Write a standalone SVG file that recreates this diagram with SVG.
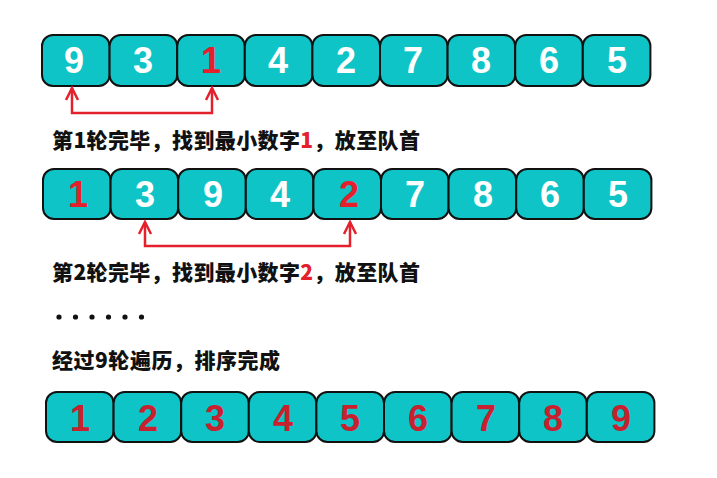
<svg xmlns="http://www.w3.org/2000/svg" width="717" height="478" viewBox="0 0 717 478">
<defs>
<style>
.box{fill:#0fc4c6;stroke:#111;stroke-width:2}
.d{font-family:"Liberation Sans",Arial,sans-serif;font-weight:bold;font-size:36px;text-anchor:middle}
.w{fill:#fff}
.r{fill:#e3202c}
.r3{fill:#c8202e}
.t{font-family:"Noto Sans CJK SC",sans-serif;font-weight:900;font-size:21px;fill:#111}
.ar{fill:none;stroke:#e3202c;stroke-width:2.5}
</style>
</defs>
<rect width="717" height="478" fill="#fff"/>
<g id="row1">
<g id="r1n1"><rect class="box" x="42" y="35" width="67.6" height="51" rx="11"/><text class="d w" x="74" y="73">9</text></g>
<g id="r1n2"><rect class="box" x="109.6" y="35" width="67.6" height="51" rx="11"/><text class="d w" x="143" y="73">3</text></g>
<g id="r1n3"><rect class="box" x="177.2" y="35" width="67.6" height="51" rx="11"/><text class="d r" x="211" y="73">1</text></g>
<g id="r1n4"><rect class="box" x="244.8" y="35" width="67.6" height="51" rx="11"/><text class="d w" x="278" y="73">4</text></g>
<g id="r1n5"><rect class="box" x="312.4" y="35" width="67.6" height="51" rx="11"/><text class="d w" x="346" y="73">2</text></g>
<g id="r1n6"><rect class="box" x="380" y="35" width="67.6" height="51" rx="11"/><text class="d w" x="413" y="73">7</text></g>
<g id="r1n7"><rect class="box" x="447.6" y="35" width="67.6" height="51" rx="11"/><text class="d w" x="481" y="73">8</text></g>
<g id="r1n8"><rect class="box" x="515.2" y="35" width="67.6" height="51" rx="11"/><text class="d w" x="549" y="73">6</text></g>
<g id="r1n9"><rect class="box" x="582.8" y="35" width="67.6" height="51" rx="11"/><text class="d w" x="617" y="73">5</text></g>
</g>
<g id="row2">
<g id="r2n1"><rect class="box" x="43" y="169" width="67.6" height="50" rx="11"/><text class="d r" x="78" y="207">1</text></g>
<g id="r2n2"><rect class="box" x="110.6" y="169" width="67.6" height="50" rx="11"/><text class="d w" x="145" y="207">3</text></g>
<g id="r2n3"><rect class="box" x="178.2" y="169" width="67.6" height="50" rx="11"/><text class="d w" x="213" y="207">9</text></g>
<g id="r2n4"><rect class="box" x="245.8" y="169" width="67.6" height="50" rx="11"/><text class="d w" x="280" y="207">4</text></g>
<g id="r2n5"><rect class="box" x="313.4" y="169" width="67.6" height="50" rx="11"/><text class="d r" x="349" y="207">2</text></g>
<g id="r2n6"><rect class="box" x="381" y="169" width="67.6" height="50" rx="11"/><text class="d w" x="415" y="207">7</text></g>
<g id="r2n7"><rect class="box" x="448.6" y="169" width="67.6" height="50" rx="11"/><text class="d w" x="483" y="207">8</text></g>
<g id="r2n8"><rect class="box" x="516.2" y="169" width="67.6" height="50" rx="11"/><text class="d w" x="550" y="207">6</text></g>
<g id="r2n9"><rect class="box" x="583.8" y="169" width="67.6" height="50" rx="11"/><text class="d w" x="618" y="207">5</text></g>
</g>
<g id="row3">
<g id="r3n1"><rect class="box" x="46" y="392" width="67.6" height="50" rx="11"/><text class="d r3" x="80" y="431">1</text></g>
<g id="r3n2"><rect class="box" x="113.6" y="392" width="67.6" height="50" rx="11"/><text class="d r3" x="148" y="431">2</text></g>
<g id="r3n3"><rect class="box" x="181.2" y="392" width="67.6" height="50" rx="11"/><text class="d r3" x="215" y="431">3</text></g>
<g id="r3n4"><rect class="box" x="248.8" y="392" width="67.6" height="50" rx="11"/><text class="d r3" x="283" y="431">4</text></g>
<g id="r3n5"><rect class="box" x="316.4" y="392" width="67.6" height="50" rx="11"/><text class="d r3" x="350" y="431">5</text></g>
<g id="r3n6"><rect class="box" x="384" y="392" width="67.6" height="50" rx="11"/><text class="d r3" x="418" y="431">6</text></g>
<g id="r3n7"><rect class="box" x="451.6" y="392" width="67.6" height="50" rx="11"/><text class="d r3" x="486" y="431">7</text></g>
<g id="r3n8"><rect class="box" x="519.2" y="392" width="67.6" height="50" rx="11"/><text class="d r3" x="553" y="431">8</text></g>
<g id="r3n9"><rect class="box" x="586.8" y="392" width="67.6" height="50" rx="11"/><text class="d r3" x="621" y="431">9</text></g>
</g>
<g id="connectors">
<path class="ar" d="M72,88 L72,113 L212,113 L212,88"/>
<path class="ar" d="M66,100 L72,88 L78,100 M206,100 L212,88 L218,100"/>
<path class="ar" d="M145,222 L145,246 L350,246 L350,222"/>
<path class="ar" d="M139,234 L145,222 L151,234 M344,234 L350,222 L356,234"/>
</g>
<g id="labels">
<text class="t" x="52" y="148" textLength="368">第1轮完毕，找到最小数字<tspan fill="#e3202c">1</tspan>，放至队首</text>
<text class="t" x="52" y="280" textLength="368">第2轮完毕，找到最小数字<tspan fill="#e3202c">2</tspan>，放至队首</text>
<g id="dots" fill="#111">
<circle cx="59" cy="317" r="2.6"/><circle cx="75.5" cy="317" r="2.6"/><circle cx="92" cy="317" r="2.6"/><circle cx="108.5" cy="317" r="2.6"/><circle cx="125" cy="317" r="2.6"/><circle cx="141.5" cy="317" r="2.6"/>
</g>
<text class="t" x="52" y="368" textLength="228">经过9轮遍历，排序完成</text>
</g>
</svg>
